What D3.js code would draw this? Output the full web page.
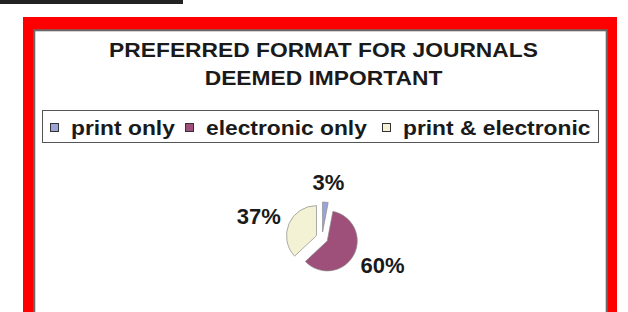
<!DOCTYPE html>
<html>
<head>
<meta charset="utf-8">
<script src="https://cdn.jsdelivr.net/npm/d3@7"></script>
<style>
  body { margin: 0; background: #fff; }
  svg { display: block; }
  text { font-family: "Liberation Sans", Arial, sans-serif; font-weight: bold; fill: #1a1a1a; }
</style>
</head>
<body>
<svg id="chart"></svg>
<script>
const categories = ['print only', 'electronic only', 'print & electronic'];
const values = [3, 60, 37];
const pctLabels = ['3%', '60%', '37%'];
const colors = ['#9aa4d8', '#9e4f7a', '#f4f2d4'];
const titleLines = ['PREFERRED FORMAT FOR JOURNALS', 'DEEMED IMPORTANT'];

const width = 628, height = 312;
const stretch = 1.14; // text in the original is a bit wide

const svg = d3.select('#chart')
  .attr('width', width)
  .attr('height', height);

// top dark rule
svg.append('rect')
  .attr('x', 0).attr('y', 0)
  .attr('width', 183).attr('height', 4)
  .attr('fill', '#222');

// red frame
svg.append('rect')
  .attr('x', 23).attr('y', 17)
  .attr('width', 594).attr('height', 320)
  .attr('fill', '#ff0000');

// inner white panel
svg.append('rect')
  .attr('x', 34.3).attr('y', 30.3)
  .attr('width', 572.4).attr('height', 300)
  .attr('fill', '#fff')
  .attr('stroke', '#6a6a6a')
  .attr('stroke-width', 2);

// title
const titleX = 323.5;
titleLines.forEach((line, i) => {
  svg.append('text')
    .attr('transform', 'translate(' + titleX + ',' + (56.5 + i * 28) + ') scale(' + stretch + ',1)')
    .attr('text-anchor', 'middle')
    .style('font-size', '20px')
    .text(line);
});

// legend
svg.append('rect')
  .attr('x', 42.5).attr('y', 110.5)
  .attr('width', 556).attr('height', 32)
  .attr('fill', '#fff')
  .attr('stroke', '#555')
  .attr('stroke-width', 1);

const legendX = [50, 185, 382];
const leg = svg.selectAll('g.leg')
  .data(categories)
  .enter()
  .append('g')
  .attr('class', 'leg')
  .attr('transform', (d, i) => 'translate(' + legendX[i] + ',0)');

leg.append('rect')
  .attr('x', 0.5).attr('y', 123.5)
  .attr('width', 8).attr('height', 8)
  .attr('fill', (d, i) => colors[i])
  .attr('stroke', '#333')
  .attr('stroke-width', 1);

leg.append('text')
  .attr('transform', 'translate(21,135) scale(' + stretch + ',1)')
  .style('font-size', '20px')
  .text(d => d);

// pie
const cx = 322, cy = 238, r = 30, explode = 6;

const pie = d3.pie()
  .sort(null)
  .value(d => d)
  .startAngle(0)
  .endAngle(2 * Math.PI);

const arcs = pie(values);
const arc = d3.arc().innerRadius(0).outerRadius(r);

const slices = svg.append('g')
  .attr('transform', 'translate(' + cx + ',' + cy + ')');

slices.selectAll('path')
  .data(arcs)
  .enter()
  .append('path')
  .attr('d', arc)
  .attr('transform', d => {
    const a = (d.startAngle + d.endAngle) / 2;
    return 'translate(' + (Math.sin(a) * explode) + ',' + (-Math.cos(a) * explode) + ')';
  })
  .attr('fill', (d, i) => colors[i])
  .attr('stroke', '#8a8a8a')
  .attr('stroke-width', 0.7);

slices.selectAll('text')
  .data(arcs)
  .enter()
  .append('text')
  .attr('x', d => Math.sin((d.startAngle + d.endAngle) / 2) * 69)
  .attr('y', d => -Math.cos((d.startAngle + d.endAngle) / 2) * 56)
  .attr('dy', '0.36em')
  .attr('text-anchor', 'middle')
  .style('font-size', '22px')
  .text((d, i) => pctLabels[i]);
</script>
</body>
</html>
